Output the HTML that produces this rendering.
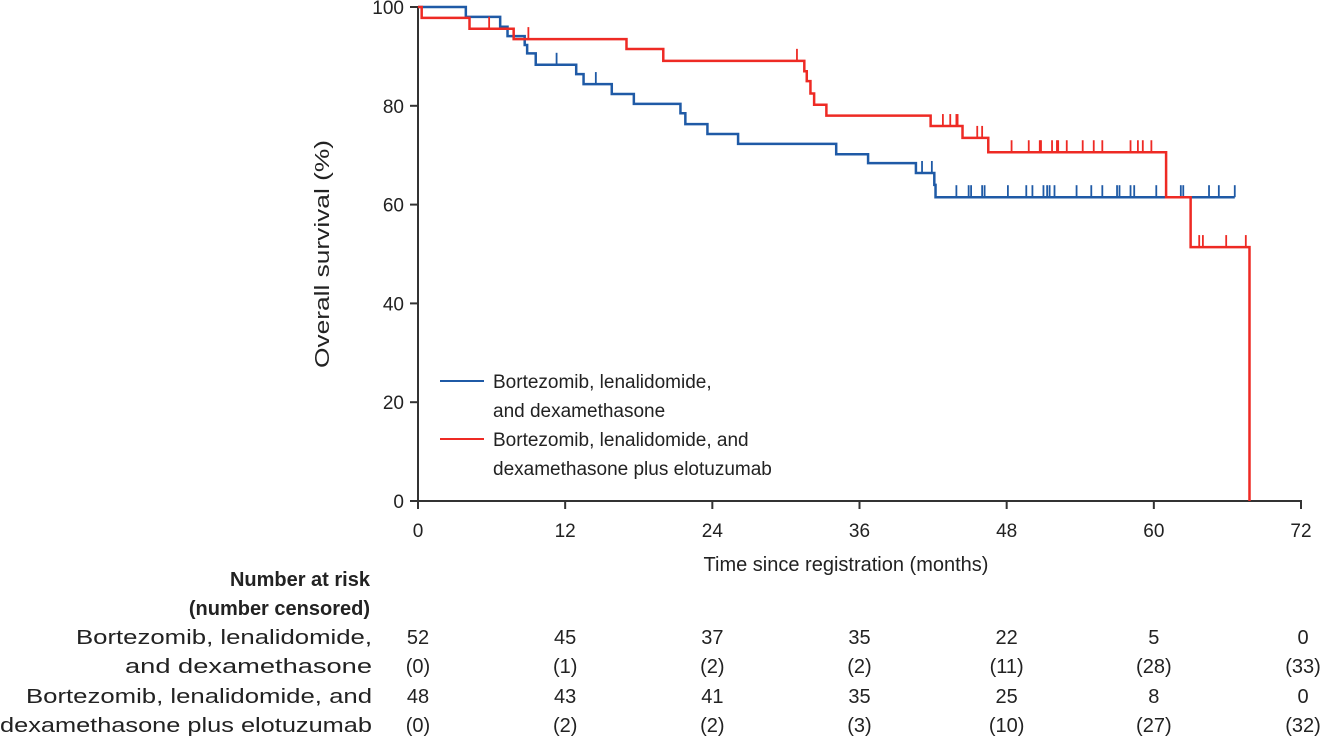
<!DOCTYPE html>
<html><head><meta charset="utf-8"><style>
html,body{margin:0;padding:0;background:#fff;}
svg{display:block;font-family:"Liberation Sans",sans-serif;}
</style></head><body>
<svg id="chart" width="1324" height="741" viewBox="0 0 1324 741">
<g id="axes"></g>
<g id="series"></g>
<g id="legend">
 <line x1="440" y1="381" x2="484" y2="381" stroke="#1f5aa6" stroke-width="2"/>
 <text x="493" y="388" font-size="19" fill="#222">Bortezomib, lenalidomide,</text>
 <text x="493" y="417" font-size="19" fill="#222">and dexamethasone</text>
 <line x1="440" y1="439" x2="484" y2="439" stroke="#ee2a24" stroke-width="2"/>
 <text x="493" y="446" font-size="19" fill="#222">Bortezomib, lenalidomide, and</text>
 <text x="493" y="475" font-size="19" fill="#222">dexamethasone plus elotuzumab</text>
</g>
<g id="risk">
 <text x="370" y="586" font-size="20" font-weight="bold" text-anchor="end" fill="#222">Number at risk</text>
 <text x="370" y="615" font-size="20" font-weight="bold" text-anchor="end" fill="#222">(number censored)</text>
 <text x="372" y="644" font-size="20" text-anchor="end" fill="#222" textLength="296" lengthAdjust="spacingAndGlyphs">Bortezomib, lenalidomide,</text>
 <text x="372" y="673" font-size="20" text-anchor="end" fill="#222" textLength="247" lengthAdjust="spacingAndGlyphs">and dexamethasone</text>
 <text x="372" y="703" font-size="20" text-anchor="end" fill="#222" textLength="346" lengthAdjust="spacingAndGlyphs">Bortezomib, lenalidomide, and</text>
 <text x="372" y="732" font-size="20" text-anchor="end" fill="#222" textLength="372" lengthAdjust="spacingAndGlyphs">dexamethasone plus elotuzumab</text>
</g>
</svg>
<script>
const xTicks = [0,12,24,36,48,60,72];
const yTicks = [0,20,40,60,80,100];
const blueTimes = [0,3.9,6.7,7.3,8.7,8.9,9.6,12.9,13.5,15.8,17.6,21.4,21.8,23.6,26.1,34.1,36.7,40.6,42.1,42.2];
const blueSurv  = [100,98.0,96.0,94.1,92.3,90.6,88.3,86.4,84.4,82.4,80.4,78.5,76.3,74.3,72.3,70.2,68.4,66.4,64.0,61.5];
const blueEnd = 66.6;
const blueCensor = [11.3,14.5,41.1,41.9,43.9,44.9,45.1,46.0,46.2,48.1,49.6,50.1,51.0,51.3,51.5,51.9,53.7,54.9,55.8,57.0,57.2,58.1,58.4,60.2,62.2,62.4,64.5,65.3,66.6];
const redTimes = [0,0.3,4.2,7.8,17.0,20.0,31.5,31.7,32.0,32.3,33.3,41.8,44.4,46.5,61.0,63.0,67.8];
const redSurv  = [100,97.8,95.6,93.5,91.5,89.1,87.0,85.0,82.5,80.2,78.0,75.9,73.5,70.6,61.5,51.4,0];
const redEnd = 67.8;
const redCensor = [5.8,9.0,30.9,42.8,43.4,43.9,44.0,45.6,46.0,48.4,49.8,50.7,50.8,51.7,52.1,52.2,52.9,54.2,55.1,55.8,58.1,58.7,59.1,59.8,63.7,64.0,65.9,67.5];
const riskBlue = ["52","45","37","35","22","5","0"];
const censBlue = ["(0)","(1)","(2)","(2)","(11)","(28)","(33)"];
const riskRed = ["48","43","41","35","25","8","0"];
const censRed = ["(0)","(2)","(2)","(3)","(10)","(27)","(32)"];

const NS="http://www.w3.org/2000/svg";
const X = m => 418 + m*(1301-418)/72;
const Y = s => 501 - s*(501-7)/100;
function mk(tag, attrs, parent, txt){const e=document.createElementNS(NS,tag);for(const k in attrs)e.setAttribute(k,attrs[k]);if(txt!==undefined)e.textContent=txt;parent.appendChild(e);return e;}
const axes=document.getElementById('axes'), ser=document.getElementById('series'), risk=document.getElementById('risk');
let e;
e=mk('line',{x1:418,y1:7,x2:418,y2:502,stroke:'#333','stroke-width':2},axes);


e=mk('line',{x1:417,y1:501,x2:1302,y2:501,stroke:'#333','stroke-width':2},axes);


yTicks.forEach(v=>{
 e=mk('line',{x1:410,y1:Y(v),x2:418,y2:Y(v),stroke:'#333','stroke-width':2},axes);
 
 
 e=mk('text',{x:404,y:Y(v)+7,'font-size':19,'text-anchor':'end',fill:'#222'},axes,String(v));
 
 
});
xTicks.forEach((v,i)=>{
 e=mk('line',{x1:X(v),y1:501,x2:X(v),y2:509,stroke:'#333','stroke-width':2},axes);
 
 
 e=mk('text',{x:X(v),y:537,'font-size':19,'text-anchor':'middle',fill:'#222'},axes,String(v));
 
 
 const rows=[riskBlue,censBlue,riskRed,censRed], ys=[644,673,703,732];
 rows.forEach((r,j)=>{
  e=mk('text',{x:X(v)+(i==6?2:0),y:ys[j],'font-size':20,'text-anchor':'middle',fill:'#222'},risk,r[i]);
  
  
 });
});
e=mk('text',{x:846,y:571,'font-size':20,'text-anchor':'middle',fill:'#222'},axes,'Time since registration (months)');


e=mk('text',{x:0,y:0,'font-size':20,'text-anchor':'middle',fill:'#222',transform:'translate(329,254) rotate(-90)',textLength:228,lengthAdjust:'spacingAndGlyphs'},axes,'Overall survival (%)');



function drawCurve(times,surv,end,cens,color,name){
 let d='M'+X(times[0])+','+Y(surv[0]);
 for(let i=1;i<times.length;i++){d+=' H'+X(times[i])+' V'+Y(surv[i]);}
 d+=' H'+X(end);
 e=mk('path',{d:d,fill:'none',stroke:color,'stroke-width':2.5},ser);
 
 
 cens.forEach(t=>{
  let s=surv[0];
  for(let i=0;i<times.length;i++){if(times[i]<=t)s=surv[i];}
  e=mk('line',{x1:X(t),y1:Y(s),x2:X(t),y2:Y(s)-12,stroke:color,'stroke-width':1.8},ser);
  
  
 });
}
drawCurve(blueTimes,blueSurv,blueEnd,blueCensor,'#1f5aa6','vrd');
drawCurve(redTimes,redSurv,redEnd,redCensor,'#ee2a24','elo-vrd');
</script>
</body></html>
